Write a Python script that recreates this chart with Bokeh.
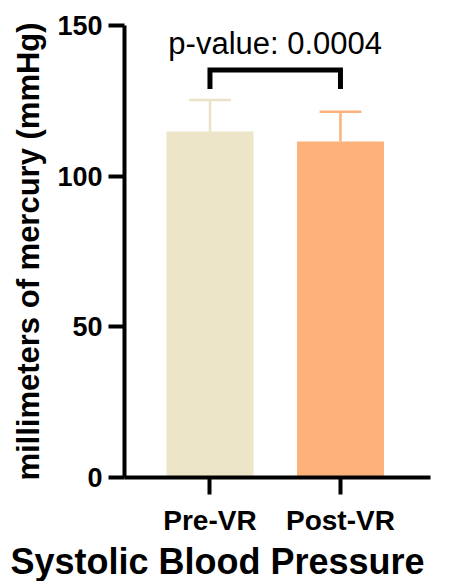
from bokeh.plotting import figure
from bokeh.models import FixedTicker, ColumnDataSource, Range1d, Label, Title
from bokeh.embed import file_html
from bokeh.resources import INLINE

categories = ["Pre-VR", "Post-VR"]
means = [114.8, 111.5]
sds = [10.5, 9.9]
colors = ["#ECE5C8", "#FDB27B"]
err_colors = ["#E9E2C6", "#FCB27C"]
y_ticks = [0, 50, 100, 150]
p_text = "p-value: 0.0004"
x_title = "Systolic Blood Pressure"
y_title = "millimeters of mercury (mmHg)"
bracket_y = [128.9, 135.2, 135.2, 128.9]

xs = [1, 2]
FONT = "Liberation Sans"

p = figure(width=458, height=581, output_backend="svg", toolbar_location=None,
           x_range=Range1d(0.345, 2.69), y_range=Range1d(0, 150),
           min_border_left=124, min_border_right=28, min_border_top=25, min_border_bottom=0)
p.outline_line_color = None
p.xgrid.visible = False
p.ygrid.visible = False
p.background_fill_color = "white"
p.border_fill_color = "white"

src = ColumnDataSource(dict(x=xs, top=means, color=colors))
p.vbar(x="x", top="top", bottom=0, width=0.667, fill_color="color", line_color=None, source=src)

upper = [m + s for m, s in zip(means, sds)]
esrc = ColumnDataSource(dict(x=xs, y0=means, y1=upper, c=err_colors,
                             xl=[x - 0.16 for x in xs], xr=[x + 0.16 for x in xs]))
p.segment(x0="x", y0="y0", x1="x", y1="y1", line_color="c", line_width=2.5, source=esrc)
p.segment(x0="xl", y0="y1", x1="xr", y1="y1", line_color="c", line_width=2.5, source=esrc)

p.line(x=[xs[0], xs[0], xs[1], xs[1]], y=bracket_y, line_color="black", line_width=5,
       line_join="miter")
p.add_layout(Label(x=1.5, y=144.1, text=p_text, text_align="center", text_baseline="middle",
                   text_font=FONT, text_font_size="31px", text_color="black"))

# axes
for ax in (p.xaxis[0], p.yaxis[0]):
    ax.axis_line_width = 4
    ax.major_tick_line_width = 4
    ax.minor_tick_line_color = None
    ax.major_tick_in = 0
    ax.major_label_text_font = FONT
    ax.major_label_text_font_style = "bold"
    ax.major_label_text_color = "black"
    ax.axis_label_text_font = FONT
    ax.axis_label_text_font_style = "bold"
    ax.axis_label_text_color = "black"
    ax.axis_line_color = "black"
    ax.major_tick_line_color = "black"

p.yaxis.ticker = FixedTicker(ticks=y_ticks)
p.yaxis.major_tick_out = 16
p.yaxis.major_label_standoff = 6
p.yaxis.major_label_text_font_size = "27px"
p.yaxis.axis_label = y_title
p.yaxis.axis_label_text_font_size = "31px"
p.yaxis.axis_label_standoff = 8

p.xaxis.ticker = FixedTicker(ticks=xs)
p.xaxis.major_label_overrides = {x: c for x, c in zip(xs, categories)}
p.xaxis.major_tick_out = 17
p.xaxis.major_label_standoff = 10
p.xaxis.major_label_text_font_size = "28px"

# x axis title below the tick labels, shifted left like the reference
p.add_layout(Title(text=x_title, align="left", offset=-114, standoff=0,
                   text_font=FONT, text_font_style="bold", text_font_size="36px",
                   text_color="black"), "below")

open("out.html", "w").write(file_html(p, INLINE))
